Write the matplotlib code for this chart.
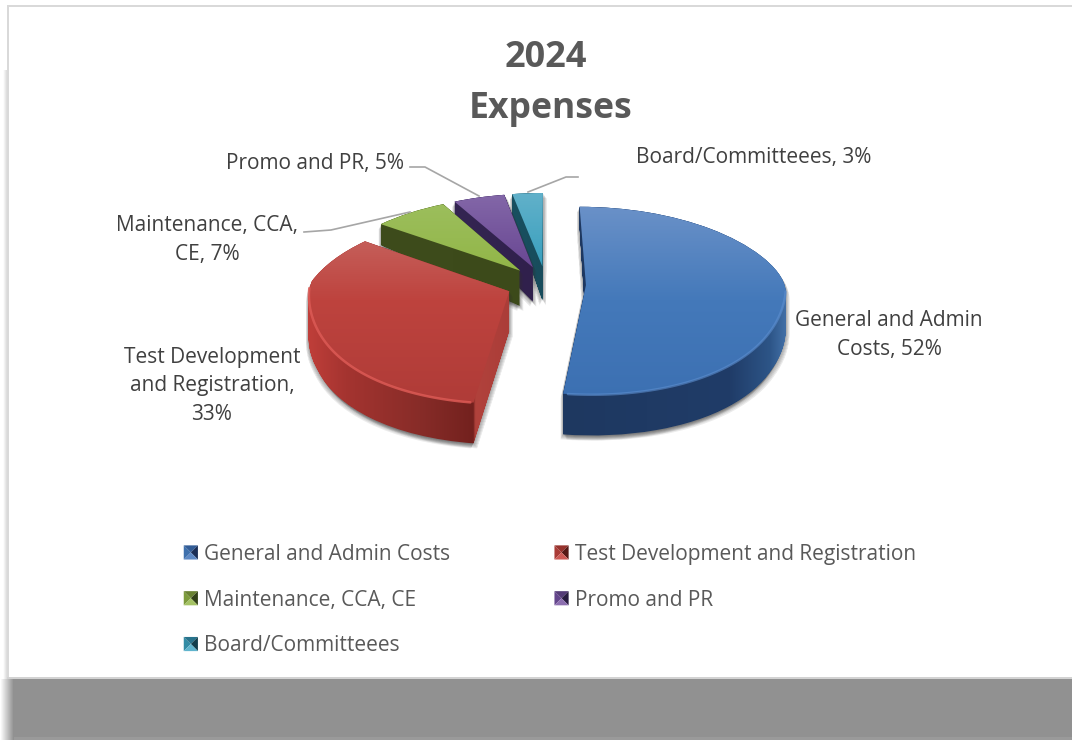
import numpy as np
import matplotlib
matplotlib.use("Agg")
import matplotlib.pyplot as plt
from matplotlib.path import Path
from matplotlib.patches import Patch, PathPatch, Polygon, Rectangle
from matplotlib.transforms import IdentityTransform, Transform
from matplotlib.legend_handler import HandlerBase

plt.rcParams['font.family'] = ['Open Sans', 'DejaVu Sans']

# ---- data -------------------------------------------------------------
categories = ["General and Admin Costs", "Test Development and Registration",
              "Maintenance, CCA, CE", "Promo and PR", "Board/Committeees"]
values = [52, 33, 7, 5, 3]

# ---- styles -------------------------------------------------------------
W, H = 1072, 740
CX, CY = 546.0, 284.0     # pie centre, px from top-left
RX, AY = 200.0, 91.0      # horizontal radius, vertical scale
K = 0.166                 # perspective strength, y
KX = 0.19                 # perspective strength, x (far side)
KN = 0.15                 # perspective strength, x (near side)
EXPLODE = 0.2

top_stops = [
    ([207, 300, 400], [(106, 145, 200), (68, 121, 186), (60, 112, 178)]),
    ([240, 300, 400], [(197, 95, 90), (190, 67, 62), (176, 60, 56)]),
    ([205, 270], [(156, 190, 92), (146, 182, 72)]),
    ([195, 270], [(131, 103, 168), (104, 70, 146)]),
    ([193, 265], [(98, 177, 202), (58, 160, 190)]),
]
side_stops = [
    ([563, 730, 770, 785], [(30, 56, 96), (32, 60, 104), (45, 85, 135), (65, 110, 165)]),
    ([310, 345, 420, 473, 475, 515], [(190, 62, 57), (165, 52, 48), (135, 44, 40), (115, 33, 30),
                                      (177, 66, 60), (170, 60, 56)]),
    ([380, 525], [(62, 76, 28), (60, 74, 26)]),
    ([455, 535], [(52, 37, 82), (48, 32, 76)]),
    ([510, 545], [(24, 80, 96), (24, 76, 92)]),
]
flat = ['#4277b8', '#bb4541', '#96b74f', '#7250a0', '#45a7c4']
legend_tris = [
    ((62, 112, 172), (50, 92, 150), (26, 46, 86), (92, 136, 196)),
    ((170, 60, 55), (150, 50, 45), (85, 25, 22), (205, 90, 85)),
    ((125, 155, 60), (105, 130, 50), (50, 65, 24), (165, 195, 100)),
    ((100, 70, 140), (85, 60, 120), (40, 28, 64), (140, 110, 175)),
    ((50, 140, 165), (40, 115, 140), (18, 62, 76), (95, 180, 205)),
]
rims = {0: (-96, -4, '#5d8fd0', 0.6), 1: (178, 262, '#dc5a55', 0.85)}


def rgb(c):
    return tuple(v / 255 for v in c)


def f(y):
    return y / (1 + K * y)


def finv(v):
    return v / (1 - K * v)


def depth(y_px):
    return np.interp(y_px, [225, 285, 440], [21, 40, 41])


class Narrow(Transform):
    """Pulls x towards the centre with height, for the pie's tilt."""
    input_dims = 2
    output_dims = 2

    def transform_non_affine(self, values):
        v = np.array(values, dtype=float)
        y = v[:, 1]
        v[:, 0] = v[:, 0] * np.where(y >= 0, 1 / (1 + KX * y), 1 + KN * y * y)
        return v


fig = plt.figure(figsize=(W / 100, H / 100), dpi=100, facecolor='white')

# background layer
bg = fig.add_axes([0, 0, 1, 1], zorder=0)
bg.axis('off')
bg.add_patch(Rectangle((0, 679), W, 61, fc='#919191', ec='none'))
bg.add_patch(Rectangle((0, 737), W, 3, fc='#9a9a9a', ec='none'))
g = np.linspace(1, 0.57, 16).reshape(1, -1)
bg.imshow(g, extent=(0, 14, 740, 679), cmap='gray', vmin=0, vmax=1, aspect='auto', zorder=2)
g2 = np.linspace(1, 0.82, 8).reshape(1, -1)
bg.imshow(g2, extent=(3, 8, 679, 70), cmap='gray', vmin=0, vmax=1, aspect='auto', zorder=2)
bg.add_patch(Rectangle((7, 5), W - 7, 2.2, fc='#d9d9d9', ec='none', zorder=3))
bg.add_patch(Rectangle((7, 5), 2.2, 674, fc='#d9d9d9', ec='none', zorder=3))
bg.add_patch(Rectangle((7, 677), W - 7, 2.2, fc='#d2d2d2', ec='none', zorder=3))
bg.set_xlim(0, W)
bg.set_ylim(H, 0)

# real pie on a perspective y scale
ax = fig.add_axes([0, 0, 1, 1], zorder=1)
wedges, _ = ax.pie(values, explode=[EXPLODE] * len(values), startangle=90,
                   counterclock=False, colors=flat, radius=1.0,
                   wedgeprops=dict(linewidth=0))
ax.set_aspect('auto')
ax.set_yscale('function', functions=(f, finv))
ax.set_xlim((0 - CX) / RX, (W - CX) / RX)
ax.set_ylim(finv((CY - H) / AY), finv(CY / AY))
ax.axis('off')
tilt = Narrow() + ax.transData
for w in wedges:
    w.set_transform(tilt)

# overlay for shading, labels and legend
ov = fig.add_axes([0, 0, 1, 1], zorder=2)
ov.patch.set_visible(False)
ov.axis('off')


def gradient(stops, vertical, clip, z, bounds):
    pos, cols = stops
    lo, hi = (bounds[1], bounds[3]) if vertical else (bounds[0], bounds[2])
    t = np.linspace(lo, hi, 256)
    arr = np.stack([np.interp(t, pos, [c[i] / 255 for c in cols]) for i in range(3)], axis=-1)
    arr = arr[:, None, :] if vertical else arr[None, :, :]
    im = ov.imshow(arr, extent=(bounds[0], bounds[2], bounds[3], bounds[1]),
                   aspect='auto', zorder=z, interpolation='bilinear')
    im.set_clip_path(clip, IdentityTransform())


def to_px(v):
    out = v.copy()
    out[:, 1] = H - out[:, 1]
    return out


for i, w in enumerate(wedges):
    base = (len(wedges) - i) * 10
    disp = tilt.transform_path(w.get_path())
    layers = []
    for t in np.linspace(0, 1, 43):
        v = disp.vertices.copy()
        v[:, 1] -= t * depth(H - v[:, 1])
        layers.append(Path(v, disp.codes))
    side = Path.make_compound_path(*layers)

    for k in range(1, 6):
        for sx in (-0.5, 0.7):
            sv = side.vertices.copy()
            sv[:, 0] += sx * k
            sv[:, 1] -= k
            ov.add_patch(PathPatch(Path(sv, side.codes), fc='#303030', ec='none', alpha=0.09,
                                   transform=IdentityTransform(), zorder=base))

    px = to_px(side.vertices)
    b = (px[:, 0].min() - 2, px[:, 1].min() - 2, px[:, 0].max() + 2, px[:, 1].max() + 2)
    gradient(side_stops[i], False, side, base + 1, b)

    ptop = to_px(disp.vertices)
    bt = (ptop[:, 0].min() - 2, ptop[:, 1].min() - 2, ptop[:, 0].max() + 2, ptop[:, 1].max() + 2)
    gradient(top_stops[i], True, disp, base + 2, bt)

    if i in rims:
        a0, a1, col, al = rims[i]
        th = np.radians(np.linspace(a0, a1, 120))
        pts = np.column_stack([w.center[0] + w.r * np.cos(th), w.center[1] + w.r * np.sin(th)])
        rp = to_px(tilt.transform(pts))
        ov.plot(rp[:, 0], rp[:, 1], color=col, lw=1.8, alpha=al, zorder=base + 3,
                solid_capstyle='round')

# leader lines
LEADER = '#a6a6a6'
ov.plot([410, 425, 479], [167, 167, 196], color=LEADER, lw=1.2, zorder=90)
ov.plot([304, 331, 410], [232, 230, 212], color=LEADER, lw=1.2, zorder=90)
ov.plot([528, 566, 578], [192, 177, 177], color=LEADER, lw=1.2, zorder=90)

# title
ov.text(546, 58, "2024", ha='center', va='center', fontsize=26, fontweight='bold', color='#595959')
ov.text(551, 109, "Expenses", ha='center', va='center', fontsize=25.6, fontweight='bold', color='#595959')

# data labels
LBL = dict(color='#404040', fontsize=15.0, ha='center', va='center', linespacing=1.5)
ov.text(889, 335, f"General and Admin\nCosts, {values[0]}%", **LBL)
ov.text(212, 386, f"Test Development\nand Registration,\n{values[1]}%", **LBL)
ov.text(207, 240, f"Maintenance, CCA,\nCE, {values[2]}%", **LBL)
ov.text(315, 163, f"Promo and PR, {values[3]}%", **LBL)
ov.text(754, 157, f"Board/Committeees, {values[4]}%", **LBL)


# legend
class TriHandler(HandlerBase):
    def create_artists(self, legend, orig, xd, yd, width, height, fontsize, trans):
        tris = orig.get_gid_colors
        x0, y0 = -xd, -yd + height / 2 - width / 2
        x1, y1 = x0 + width, y0 + width
        c = ((x0 + x1) / 2, (y0 + y1) / 2)
        corners = [(x0, y0), (x0, y1), (x1, y1), (x1, y0)]
        out = []
        for j, col in enumerate(tris):
            a, b_ = corners[j], corners[(j + 1) % 4]
            p = Polygon([a, b_, c], closed=True, fc=rgb(col), ec='none', transform=trans)
            out.append(p)
        return out


handles = []
for i, name in enumerate(categories):
    h = Patch(label=name)
    h.get_gid_colors = legend_tris[i]
    handles.append(h)
order = [0, 2, 4, 1, 3]
ov.legend([handles[i] for i in order], [categories[i] for i in order], ncols=2,
          loc='upper left', bbox_to_anchor=(165 / W, 1 - 525 / H), frameon=False,
          fontsize=15.0, labelcolor='#595959', handlelength=0.68, handleheight=0.68,
          handletextpad=0.3, columnspacing=5.0, labelspacing=1.19, borderpad=0.4,
          handler_map={Patch: TriHandler()})

ov.set_xlim(0, W)
ov.set_ylim(H, 0)
fig.savefig('out.png', dpi=100)
